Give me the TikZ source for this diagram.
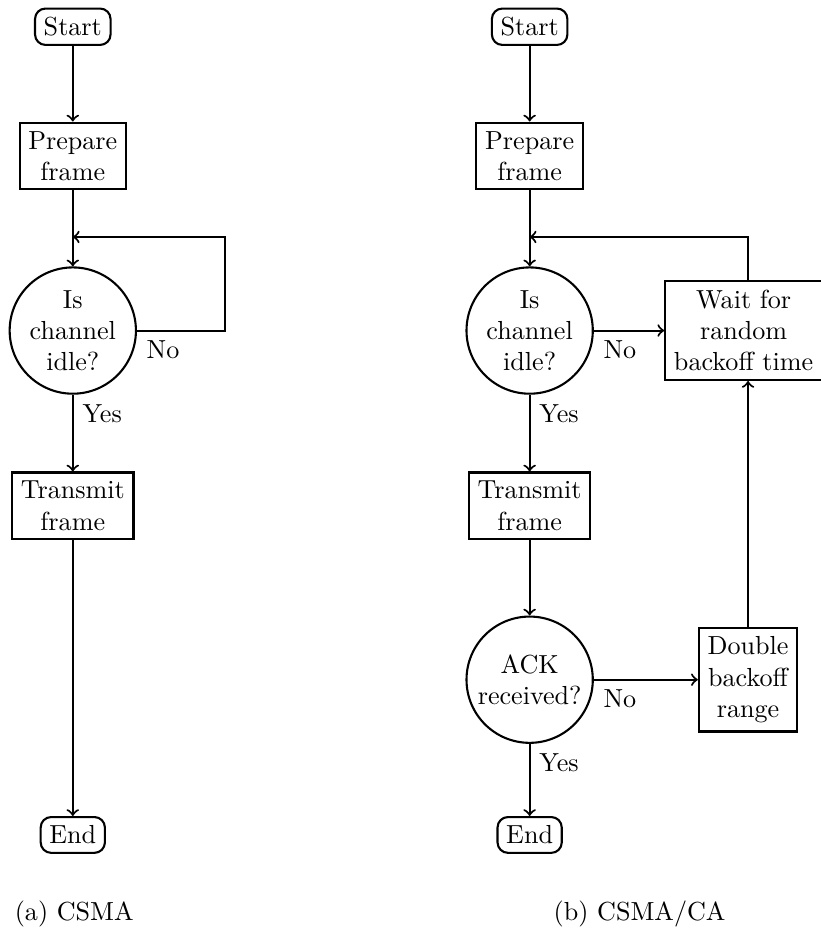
\documentclass[tikz,border=0pt]{standalone}
\usepackage{amsmath,amssymb}
\usepackage{tikz}
\usetikzlibrary{shapes,arrows,positioning}

\begin{document}
\begin{tikzpicture}[
    terminal/.style={draw, thick, rectangle, rounded corners=4pt},
    process/.style={draw, thick, rectangle, align=center},
    decision/.style={draw, thick, circle, align=center, minimum size=1.7cm, inner sep=1pt},
    flow/.style={->, thick}
]
    \useasboundingbox (0,0) rectangle (11.04,-12.56);

    % (a) CSMA
    \node[terminal] (startA) at (0.98,-0.36) {Start};
    \node[process] (prepA) at (0.98,-2.10) {Prepare\\frame};
    \node[decision] (idleA) at (0.98,-4.45) {Is\\channel\\idle?};
    \node[process] (transA) at (0.98,-6.81) {Transmit\\frame};
    \node[terminal] (endA) at (0.98,-11.24) {End};
    \coordinate (joinA) at (0.98,-3.19);
    \coordinate (turnA) at (3.03,-3.19);
    \node (capA) at (1.0,-12.3) {(a) CSMA};

    \draw[flow] (startA) -- (prepA);
    \draw[flow] (prepA) -- (idleA);
    \draw[flow] (idleA.east) node[below right] {No} -| (turnA) -- (joinA);
    \draw[flow] (idleA) -- node[pos=0, below right] {Yes} (transA);
    \draw[flow] (transA) -- (endA);

    % (b) CSMA/CA
    \node[terminal] (startB) at (7.13,-0.36) {Start};
    \node[process] (prepB) at (7.13,-2.10) {Prepare\\frame};
    \node[decision] (idleB) at (7.13,-4.45) {Is\\channel\\idle?};
    \node[process] (waitB) at (10.01,-4.45) {Wait for\\random\\backoff time};
    \node[process] (transB) at (7.13,-6.81) {Transmit\\frame};
    \node[decision] (ackB) at (7.13,-9.15) {ACK\\received?};
    \node[process] (dblB) at (10.07,-9.15) {Double\\backoff\\range};
    \node[terminal] (endB) at (7.13,-11.24) {End};
    \coordinate (joinB) at (7.13,-3.19);
    \node (capB) at (8.61,-12.3) {(b) CSMA/CA};

    \draw[flow] (startB) -- (prepB);
    \draw[flow] (prepB) -- (idleB);
    \draw[flow] (idleB) -- node[pos=0, below right] {No} (waitB);
    \draw[flow] (idleB) -- node[pos=0, below right] {Yes} (transB);
    \draw[flow] (transB) -- (ackB);
    \draw[flow] (ackB) -- node[pos=0, below right] {No} (dblB);
    \draw[flow] (ackB) -- node[pos=0, below right] {Yes} (endB);
    \draw[flow] (dblB) -- (dblB |- waitB.south);
    \draw[flow] (waitB.north -| dblB) |- (joinB);
\end{tikzpicture}
\end{document}
